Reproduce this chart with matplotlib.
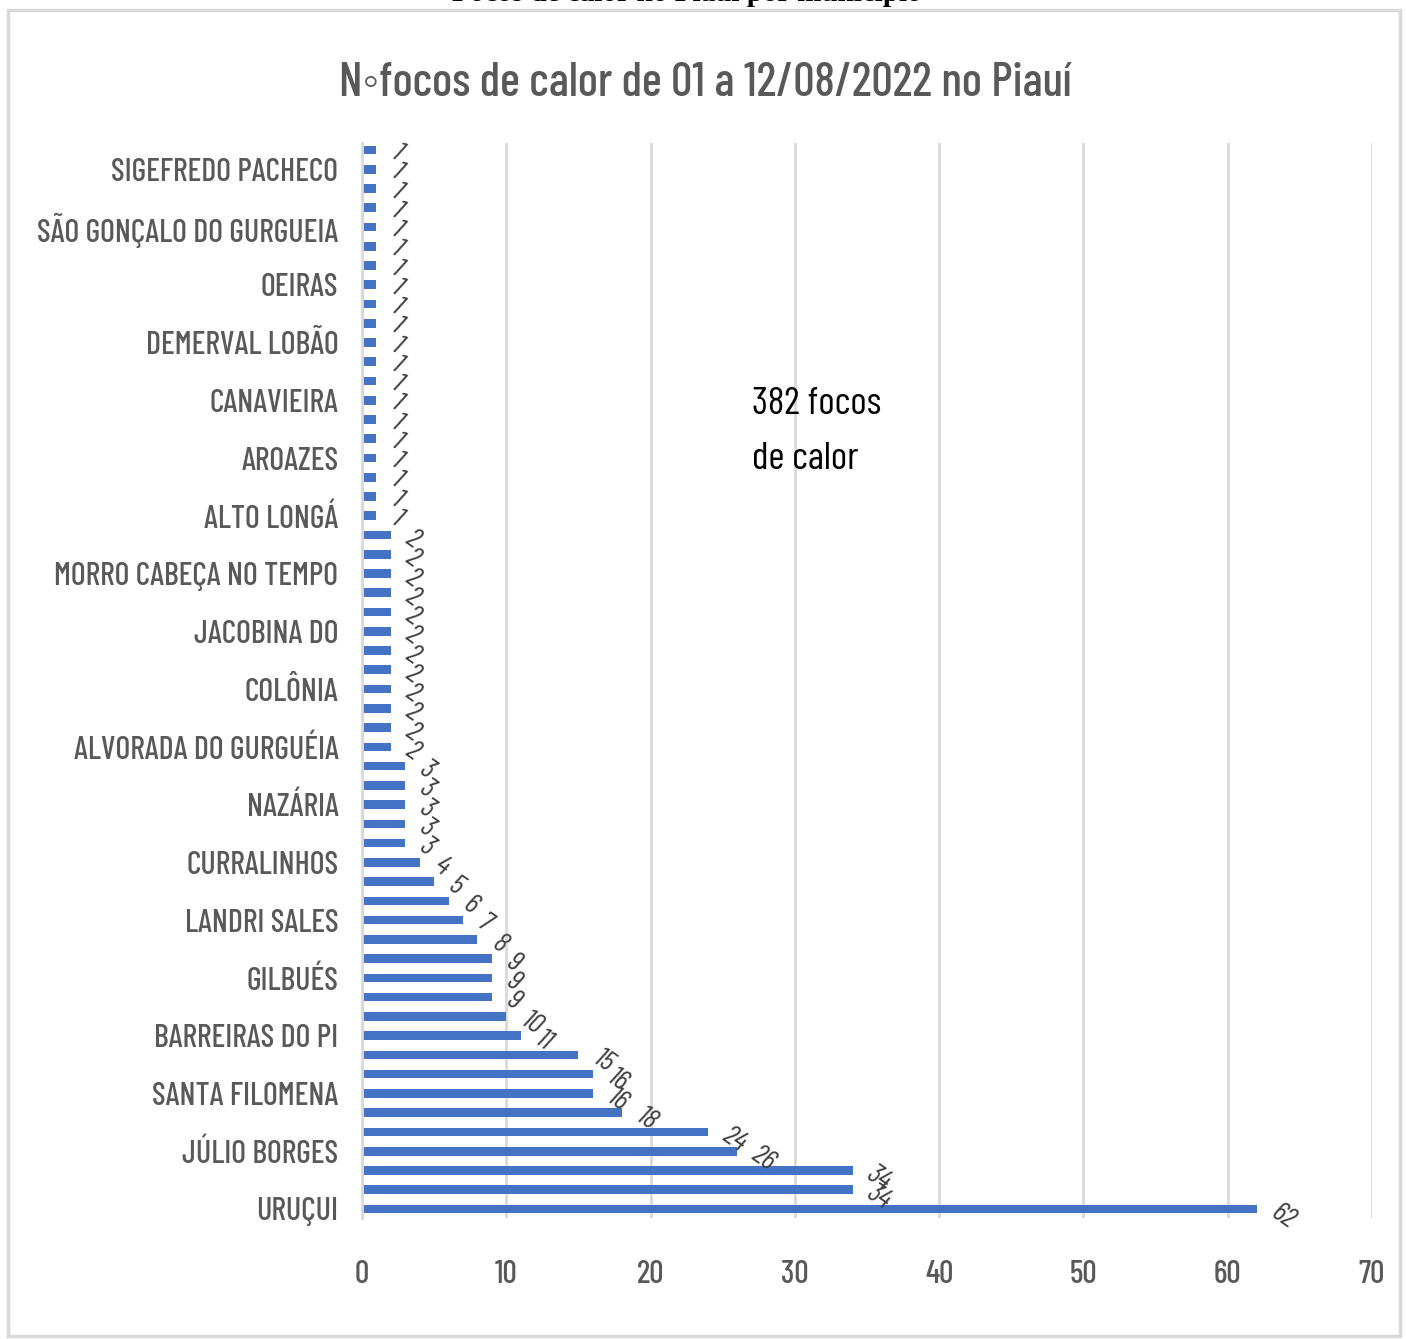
import matplotlib
matplotlib.use("Agg")
import matplotlib.pyplot as plt
import matplotlib.patches as patches
import warnings

warnings.filterwarnings("ignore")

# dados (de baixo para cima, como no gráfico do Excel)
valores = [62, 34, 34, 26, 24, 18, 16, 16, 15, 11,
           10, 9, 9, 9, 8, 7, 6, 5, 4,
           3, 3, 3, 3, 3,
           2, 2, 2, 2, 2, 2, 2, 2, 2, 2, 2, 2,
           1, 1, 1, 1, 1, 1, 1, 1, 1, 1, 1, 1, 1, 1, 1, 1, 1, 1, 1, 1]
# só um rótulo a cada 3 barras aparece no eixo
municipios = ['URUÇUI', 'JÚLIO BORGES', 'SANTA FILOMENA', 'BARREIRAS DO PI',
              'GILBUÉS', 'LANDRI SALES', 'CURRALINHOS', 'NAZÁRIA',
              'ALVORADA DO GURGUÉIA', 'COLÔNIA', 'JACOBINA DO',
              'MORRO CABEÇA NO TEMPO', 'ALTO LONGÁ', 'AROAZES', 'CANAVIEIRA',
              'DEMERVAL LOBÃO', 'OEIRAS', 'SÃO GONÇALO DO GURGUEIA',
              'SIGEFREDO PACHECO']
x_ticks = [0, 10, 20, 30, 40, 50, 60, 70]
total = 382

cond = ['Barlow Condensed', 'Roboto Condensed', 'DejaVu Sans']
cinza = '#595959'
azul = '#4472C4'
grade = '#D9D9D9'

fig = plt.figure(figsize=(14.06, 13.39), dpi=100)
fig.set_facecolor('white')

# moldura cinza do gráfico
fig.add_artist(patches.Rectangle((8 / 1406, 1 - 1336 / 1339), 1392 / 1406, 1326 / 1339,
                                 transform=fig.transFigure, fill=False,
                                 edgecolor=grade, linewidth=2.5))

# título do documento (cortado no topo)
fig.text(0.4886, 1 - (-6) / 1339, 'Focos de calor no Piauí por município',
         ha='center', va='center', fontsize=21, fontweight='bold',
         family=['Liberation Serif', 'DejaVu Serif'], color='black')

fig.text(0.5015, 1 - 83 / 1339, 'N\u25e6focos de calor de 01 a 12/08/2022 no Piauí',
         ha='center', va='center', fontsize=34, family=['Barlow Condensed', 'Liberation Sans', 'DejaVu Sans'],
         color=cinza, fontweight=500)

ax = fig.add_axes([362 / 1406, 1 - 1218 / 1339, 1010 / 1406, 1075 / 1339])

pos = list(range(len(valores)))
ax.barh(pos, valores, height=0.45, color=azul, zorder=3)

for p, v in zip(pos, valores):
    ax.annotate(str(v), (v, p), xytext=(12, -1), textcoords='offset points',
                ha='left', va='center', rotation=-35, rotation_mode='anchor',
                fontsize=21, fontstyle='italic', family=cond, color='#404040')

ax.set_xlim(0, 70)
ax.set_ylim(-0.47, 55.36)
ax.set_xticks(x_ticks)
ax.set_xticklabels([str(t) for t in x_ticks], family=cond, fontsize=23,
                   color=cinza, fontweight=500)
ax.set_yticks(pos[::3])
ax.set_yticklabels(municipios, family=cond, fontsize=23, color=cinza,
                   fontweight=500)
ax.tick_params(axis='both', length=0)
ax.tick_params(axis='y', pad=17)
ax.tick_params(axis='x', pad=30)

ax.grid(axis='x', color=grade, linewidth=2, zorder=0)
for s in ['top', 'right', 'bottom']:
    ax.spines[s].set_visible(False)
ax.spines['left'].set_color(grade)
ax.spines['left'].set_linewidth(2)
ax.spines['left'].set_zorder(4)

ax.text(27.0, 42.7, f'{total} focos\nde calor', ha='left', va='top',
        fontsize=28, family=cond, color='black', linespacing=1.75)

fig.savefig('out.png', dpi=100)
